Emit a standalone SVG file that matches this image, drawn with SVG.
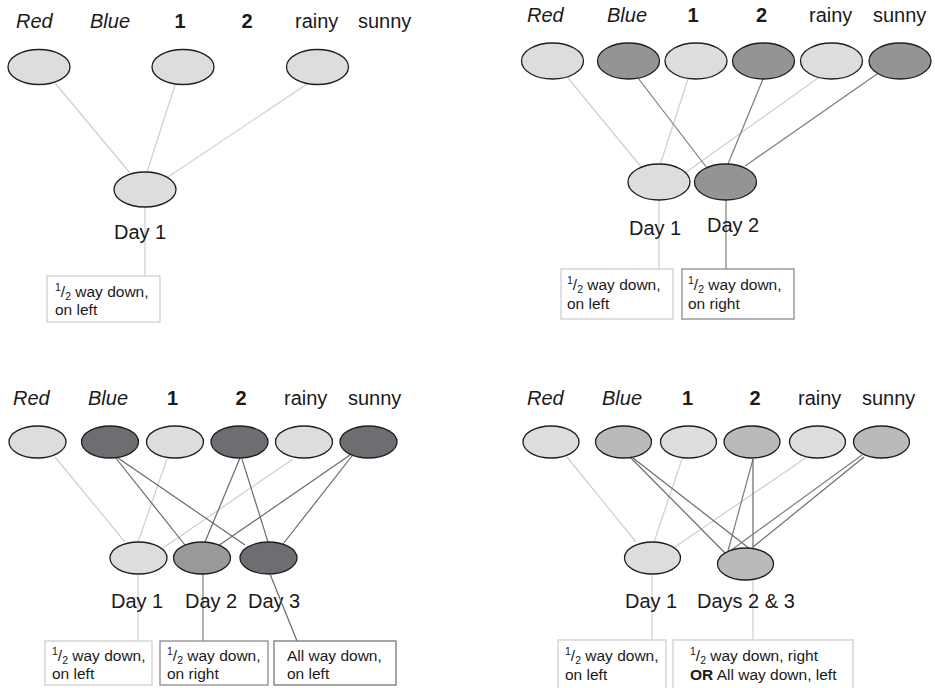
<svg xmlns="http://www.w3.org/2000/svg" width="935" height="688" viewBox="0 0 935 688">
  <style>
    text { font-family: "Liberation Sans", Arial, Helvetica, sans-serif; fill: #1a1a1a; }
    .lbl { font-size: 20px; }
    .it { font-style: italic; }
    .bd { font-weight: bold; }
    .mid { text-anchor: middle; }
    .note { font-size: 15.5px; }
    .sm { font-size: 10.5px; }
    ellipse { stroke: #1e1e1e; stroke-width: 1.3; }
    .f0 { fill: #dcdddf; }
    .f1 { fill: #939496; }
    .f2 { fill: #6d6e71; }
    .f3 { fill: #98999b; }
    .f4 { fill: #b9babc; }
    .c0 { stroke: #cfcfcf; stroke-width: 1.2; fill: none; }
    .c1 { stroke: #7c7c7c; stroke-width: 1.2; fill: none; }
    .c2 { stroke: #6a6a6a; stroke-width: 1.2; fill: none; }
    .b0 { fill: #fff; stroke: #cfcfcf; stroke-width: 1.3; }
    .b1 { fill: #fff; stroke: #8a8a8a; stroke-width: 1.3; }
    .b2 { fill: #fff; stroke: #777; stroke-width: 1.3; }
  </style>

  <!-- connectors -->
  <g id="connectors">
    <!-- panel 1 -->
    <line class="c0" x1="55" y1="83" x2="130" y2="173"/>
    <line class="c0" x1="175" y1="85" x2="147" y2="172"/>
    <line class="c0" x1="307" y1="84" x2="168" y2="177"/>
    <line class="c0" x1="145" y1="207" x2="145" y2="276"/>
    <!-- panel 2 -->
    <line class="c0" x1="568" y1="78" x2="642" y2="168"/>
    <line class="c0" x1="688" y1="79" x2="660" y2="165"/>
    <line class="c0" x1="818" y1="78" x2="685" y2="173"/>
    <line class="c1" x1="638" y1="78" x2="707" y2="168"/>
    <line class="c1" x1="763" y1="79" x2="728" y2="164"/>
    <line class="c1" x1="877" y1="74" x2="745" y2="166"/>
    <line class="c0" x1="659" y1="200" x2="659" y2="269"/>
    <line class="c1" x1="726" y1="200" x2="726" y2="269"/>
    <!-- panel 3 -->
    <line class="c0" x1="55" y1="457" x2="125" y2="542"/>
    <line class="c0" x1="167" y1="459" x2="138" y2="542"/>
    <line class="c0" x1="293" y1="459" x2="163" y2="548"/>
    <line class="c2" x1="115" y1="457" x2="185" y2="545"/>
    <line class="c2" x1="118" y1="458" x2="245" y2="545"/>
    <line class="c2" x1="240" y1="458" x2="205" y2="542"/>
    <line class="c2" x1="242" y1="459" x2="268" y2="542"/>
    <line class="c2" x1="350" y1="455" x2="218" y2="546"/>
    <line class="c2" x1="352" y1="456" x2="283" y2="544"/>
    <line class="c0" x1="138" y1="574" x2="138" y2="641"/>
    <line class="c1" x1="203" y1="574" x2="203" y2="641"/>
    <!-- panel 4 -->
    <line class="c0" x1="567" y1="457" x2="636" y2="542"/>
    <line class="c0" x1="682" y1="459" x2="654" y2="542"/>
    <line class="c0" x1="807" y1="457" x2="669" y2="551"/>
    <line class="c2" x1="630" y1="457" x2="725" y2="553"/>
    <line class="c2" x1="633" y1="458" x2="750" y2="549"/>
    <line class="c1" x1="753" y1="459" x2="728" y2="551"/>
    <line class="c2" x1="753" y1="459" x2="753" y2="549"/>
    <line class="c1" x1="862" y1="455" x2="730" y2="551"/>
    <line class="c2" x1="864" y1="457" x2="753" y2="547"/>
    <line class="c0" x1="652" y1="574" x2="652" y2="640"/>
    <line class="c0" x1="753" y1="580" x2="753" y2="640"/>
  </g>

  <!-- panel 1: one day -->
  <g id="p1-labels" class="lbl">
    <text class="it" x="16" y="28">Red</text>
    <text class="it" x="90" y="28">Blue</text>
    <text class="bd mid" x="180" y="28">1</text>
    <text class="bd mid" x="247" y="28">2</text>
    <text x="295" y="28">rainy</text>
    <text x="358" y="28">sunny</text>
  </g>
  <g id="p1-red-1"><ellipse class="f0" cx="39" cy="67" rx="31" ry="17.5"/></g>
  <g id="p1-one"><ellipse class="f0" cx="183" cy="67" rx="31" ry="17.5"/></g>
  <g id="p1-rainy"><ellipse class="f0" cx="317.5" cy="67" rx="31" ry="17.5"/></g>
  <g id="p1-day1">
    <ellipse class="f0" cx="145" cy="189.5" rx="31" ry="17.5"/>
    <text class="lbl" x="114" y="239">Day 1</text>
  </g>
  <g id="p1-note1">
    <rect class="b0" x="47" y="276" width="113" height="46"/>
    <text class="note" x="55" y="297"><tspan class="sm" dy="-6">1</tspan><tspan dy="6">/</tspan><tspan class="sm" dy="3">2</tspan><tspan dy="-3"> way down,</tspan></text>
    <text class="note" x="55" y="315">on left</text>
  </g>

  <!-- panel 2: two days -->
  <g id="p2-labels" class="lbl">
    <text class="it" x="527" y="22">Red</text>
    <text class="it" x="607" y="22">Blue</text>
    <text class="bd mid" x="693" y="22">1</text>
    <text class="bd mid" x="761.5" y="22">2</text>
    <text x="809" y="22">rainy</text>
    <text x="873" y="22">sunny</text>
  </g>
  <g id="p2-red"><ellipse class="f0" cx="552.5" cy="61" rx="31" ry="18"/></g>
  <g id="p2-blue"><ellipse class="f1" cx="628.5" cy="61" rx="31" ry="18"/></g>
  <g id="p2-one"><ellipse class="f0" cx="696" cy="61" rx="31" ry="18"/></g>
  <g id="p2-two"><ellipse class="f1" cx="763.5" cy="61" rx="31" ry="18"/></g>
  <g id="p2-rainy"><ellipse class="f0" cx="831.5" cy="61" rx="31" ry="18"/></g>
  <g id="p2-sunny"><ellipse class="f1" cx="900" cy="61" rx="31" ry="18"/></g>
  <g id="p2-day1">
    <ellipse class="f0" cx="659" cy="182" rx="31" ry="18"/>
    <text class="lbl" x="629" y="235">Day 1</text>
  </g>
  <g id="p2-day2">
    <ellipse class="f1" cx="725.5" cy="182" rx="31" ry="18"/>
    <text class="lbl" x="707" y="232">Day 2</text>
  </g>
  <g id="p2-note1">
    <rect class="b0" x="561" y="269" width="112" height="50"/>
    <text class="note" x="567" y="290"><tspan class="sm" dy="-6">1</tspan><tspan dy="6">/</tspan><tspan class="sm" dy="3">2</tspan><tspan dy="-3"> way down,</tspan></text>
    <text class="note" x="567" y="309">on left</text>
  </g>
  <g id="p2-note2">
    <rect class="b1" x="682" y="269" width="112" height="50"/>
    <text class="note" x="688" y="290"><tspan class="sm" dy="-6">1</tspan><tspan dy="6">/</tspan><tspan class="sm" dy="3">2</tspan><tspan dy="-3"> way down,</tspan></text>
    <text class="note" x="688" y="309">on right</text>
  </g>

  <!-- panel 3: three days -->
  <g id="p3-labels" class="lbl">
    <text class="it" x="13" y="405">Red</text>
    <text class="it" x="88" y="405">Blue</text>
    <text class="bd mid" x="172.5" y="405">1</text>
    <text class="bd mid" x="241" y="405">2</text>
    <text x="284" y="405">rainy</text>
    <text x="348" y="405">sunny</text>
  </g>
  <g id="p3-red"><ellipse class="f0" cx="37.5" cy="442" rx="28.5" ry="16"/></g>
  <g id="p3-blue"><ellipse class="f2" cx="110" cy="442" rx="28.5" ry="16"/></g>
  <g id="p3-one"><ellipse class="f0" cx="175" cy="442" rx="28.5" ry="16"/></g>
  <g id="p3-two"><ellipse class="f2" cx="239.5" cy="442" rx="28.5" ry="16"/></g>
  <g id="p3-rainy"><ellipse class="f0" cx="304" cy="442" rx="28.5" ry="16"/></g>
  <g id="p3-sunny"><ellipse class="f2" cx="368.5" cy="442" rx="28.5" ry="16"/></g>
  <g id="p3-day1">
    <ellipse class="f0" cx="138.5" cy="558" rx="28.5" ry="16"/>
    <text class="lbl" x="111" y="608">Day 1</text>
  </g>
  <g id="p3-day2">
    <ellipse class="f3" cx="202" cy="558" rx="28.5" ry="16"/>
    <text class="lbl" x="185" y="608">Day 2</text>
  </g>
  <g id="p3-day3">
    <ellipse class="f2" cx="268.5" cy="558" rx="28.5" ry="16"/>
    <text class="lbl" x="248" y="608">Day 3</text>
  </g>
  <!-- the Day 3 lead runs across its own label -->
  <g id="p3-day3-lead">
    <line class="c2" x1="270" y1="574" x2="297" y2="641"/>
  </g>
  <g id="p3-note1">
    <rect class="b0" x="45" y="641" width="107" height="44"/>
    <text class="note" x="52" y="661"><tspan class="sm" dy="-6">1</tspan><tspan dy="6">/</tspan><tspan class="sm" dy="3">2</tspan><tspan dy="-3"> way down,</tspan></text>
    <text class="note" x="52" y="679">on left</text>
  </g>
  <g id="p3-note2">
    <rect class="b1" x="160" y="641" width="108" height="44"/>
    <text class="note" x="167" y="661"><tspan class="sm" dy="-6">1</tspan><tspan dy="6">/</tspan><tspan class="sm" dy="3">2</tspan><tspan dy="-3"> way down,</tspan></text>
    <text class="note" x="167" y="679">on right</text>
  </g>
  <g id="p3-note3">
    <rect class="b2" x="274" y="641" width="122" height="44"/>
    <text class="note" x="287" y="661">All way down,</text>
    <text class="note" x="287" y="679">on left</text>
  </g>

  <!-- panel 4: days 2 and 3 merged -->
  <g id="p4-labels" class="lbl">
    <text class="it" x="527" y="405">Red</text>
    <text class="it" x="602" y="405">Blue</text>
    <text class="bd mid" x="687.5" y="405">1</text>
    <text class="bd mid" x="755" y="405">2</text>
    <text x="798" y="405">rainy</text>
    <text x="862" y="405">sunny</text>
  </g>
  <g id="p4-red"><ellipse class="f0" cx="551" cy="442" rx="28" ry="16"/></g>
  <g id="p4-blue"><ellipse class="f4" cx="623.5" cy="442" rx="28" ry="16"/></g>
  <g id="p4-one"><ellipse class="f0" cx="688.5" cy="442" rx="28" ry="16"/></g>
  <g id="p4-two"><ellipse class="f4" cx="752" cy="442" rx="28" ry="16"/></g>
  <g id="p4-rainy"><ellipse class="f0" cx="817.5" cy="442" rx="28" ry="16"/></g>
  <g id="p4-sunny"><ellipse class="f4" cx="881.5" cy="442" rx="28" ry="16"/></g>
  <g id="p4-day1">
    <ellipse class="f0" cx="652.5" cy="558" rx="28" ry="16"/>
    <text class="lbl" x="625" y="608">Day 1</text>
  </g>
  <g id="p4-days23">
    <ellipse class="f4" cx="745.5" cy="564" rx="28" ry="16"/>
    <text class="lbl" x="697" y="608">Days 2 &amp; 3</text>
  </g>
  <g id="p4-note1">
    <rect class="b0" x="558" y="640" width="108" height="52"/>
    <text class="note" x="565" y="661"><tspan class="sm" dy="-6">1</tspan><tspan dy="6">/</tspan><tspan class="sm" dy="3">2</tspan><tspan dy="-3"> way down,</tspan></text>
    <text class="note" x="565" y="680">on left</text>
  </g>
  <g id="p4-note2">
    <rect class="b0" x="673" y="640" width="180" height="52"/>
    <text class="note" x="690" y="661"><tspan class="sm" dy="-6">1</tspan><tspan dy="6">/</tspan><tspan class="sm" dy="3">2</tspan><tspan dy="-3"> way down, right</tspan></text>
    <text class="note" x="690" y="680"><tspan class="bd">OR</tspan> All way down, left</text>
  </g>
</svg>
